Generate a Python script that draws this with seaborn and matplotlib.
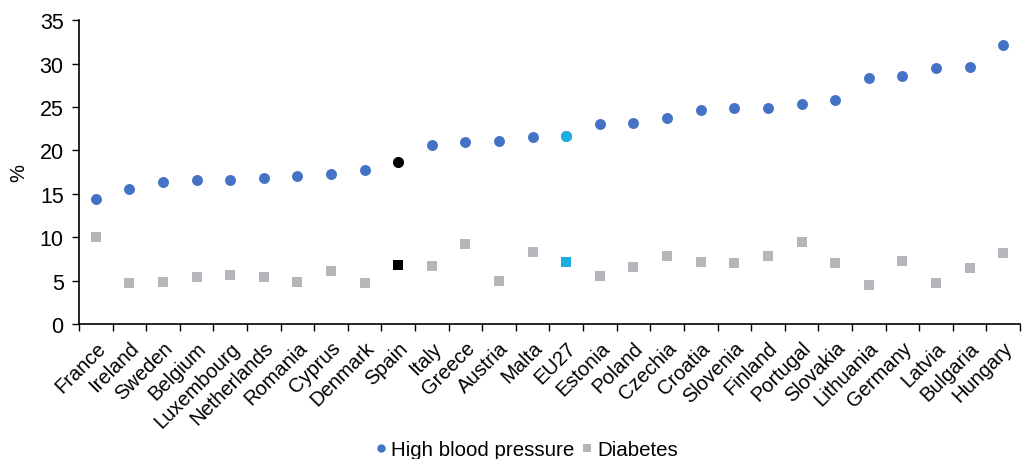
import matplotlib
matplotlib.use("Agg")
import matplotlib.pyplot as plt
from matplotlib.lines import Line2D
import numpy as np
import pandas as pd
import seaborn as sns

countries = ["France", "Ireland", "Sweden", "Belgium", "Luxembourg", "Netherlands",
             "Romania", "Cyprus", "Denmark", "Spain", "Italy", "Greece", "Austria",
             "Malta", "EU27", "Estonia", "Poland", "Czechia", "Croatia", "Slovenia",
             "Finland", "Portugal", "Slovakia", "Lithuania", "Germany", "Latvia",
             "Bulgaria", "Hungary"]
high_bp = [14.4, 15.6, 16.3, 16.6, 16.6, 16.8, 17.1, 17.3, 17.7, 18.7, 20.6, 21.0,
           21.1, 21.5, 21.7, 23.0, 23.2, 23.7, 24.6, 24.9, 24.9, 25.3, 25.8, 28.3,
           28.6, 29.5, 29.6, 32.1]
diabetes = [10.0, 4.7, 4.8, 5.4, 5.7, 5.4, 4.8, 6.1, 4.7, 6.8, 6.7, 9.2, 5.0, 8.3,
            7.1, 5.5, 6.6, 7.8, 7.1, 7.0, 7.8, 9.4, 7.0, 4.5, 7.3, 4.7, 6.4, 8.2]
highlight_colors = {"Spain": "#000000", "EU27": "#1BAEE3"}

BLUE = "#4472C4"
GREY = "#B4B6B9"

df = pd.DataFrame({"country": countries, "hbp": high_bp, "diab": diabetes})

sns.set_style("white")
plt.rcParams["font.family"] = ["Liberation Sans", "DejaVu Sans"]
plt.rcParams["text.color"] = "black"
plt.rcParams["axes.labelcolor"] = "black"
plt.rcParams["xtick.color"] = "black"
plt.rcParams["ytick.color"] = "black"

fig = plt.figure(figsize=(10.22, 4.6), dpi=100)
ax = fig.add_axes([0.0773, 0.2935, 0.9207, 0.6605])

sns.scatterplot(data=df, x="country", y="hbp", ax=ax, color=BLUE, s=62,
                marker="o", linewidth=0, legend=False, zorder=3)
sns.scatterplot(data=df, x="country", y="diab", ax=ax, color=GREY, s=56,
                marker="s", linewidth=0, legend=False, zorder=3)
for c, col in highlight_colors.items():
    sub = df[df["country"] == c]
    sns.scatterplot(data=sub, x="country", y="hbp", ax=ax, color=col, s=62,
                    marker="o", linewidth=0, legend=False, zorder=4)
    sns.scatterplot(data=sub, x="country", y="diab", ax=ax, color=col, s=56,
                    marker="s", linewidth=0, legend=False, zorder=4)

n = len(countries)
ax.set_xlim(-0.5, n - 0.5)
ax.set_ylim(0, 35)
ax.set_yticks(np.arange(0, 36, 5))
ax.set_xticks(np.arange(-0.5, n, 1))
ax.set_xticklabels([])
ax.set_xticks(np.arange(n), minor=True)
ax.set_xticklabels(countries, minor=True, rotation=45, ha="right",
                   rotation_mode="anchor", fontsize=14.5, color="black")
ax.tick_params(axis="x", which="minor", length=0, pad=10)
ax.tick_params(axis="x", which="major", length=5, width=1, color="black",
               direction="out", bottom=True)
ax.tick_params(axis="y", length=5, width=1, color="black", direction="out",
               left=True, labelsize=15.5, pad=6, labelcolor="black")
ax.set_xlabel("")
ax.set_ylabel("%", fontsize=14.5, labelpad=8, color="black")

for s in ["top", "right"]:
    ax.spines[s].set_visible(False)
for s in ["left", "bottom"]:
    ax.spines[s].set_color("black")
    ax.spines[s].set_linewidth(1.2)

handles = [
    Line2D([0], [0], marker="o", color="none", markerfacecolor=BLUE,
           markeredgewidth=0, markersize=6, label="High blood pressure"),
    Line2D([0], [0], marker="s", color="none", markerfacecolor=GREY,
           markeredgewidth=0, markersize=6, label="Diabetes"),
]
fig.legend(handles=handles, loc="lower center", bbox_to_anchor=(0.515, -0.04),
           ncol=2, frameon=False, fontsize=14.8, handlelength=0.6,
           handletextpad=0.2, columnspacing=0.3, labelcolor="black")

fig.savefig("out.png", dpi=100)
